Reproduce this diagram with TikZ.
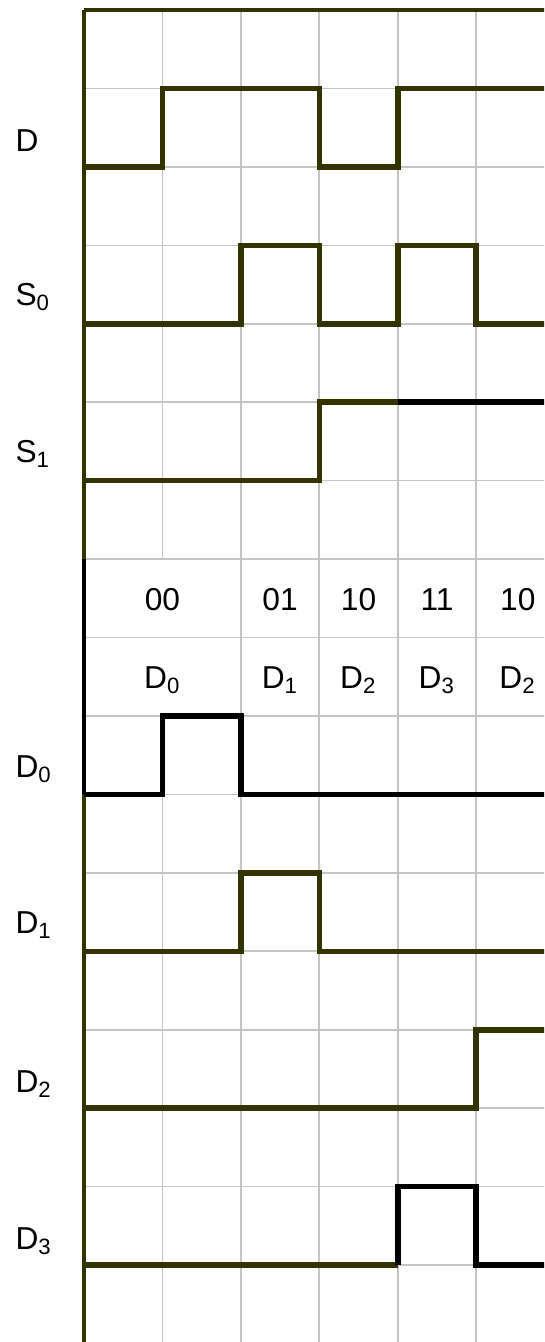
\documentclass[tikz,border=0pt]{standalone}
\usepackage{fontspec}
\setmainfont{Liberation Sans}
\definecolor{wavecol}{RGB}{51,51,0}
\definecolor{gridcol}{RGB}{196,196,196}
\tikzset{
	gridline/.style={draw=gridcol, line width=0.6pt},
	axisline/.style={draw=wavecol, line width=1.45pt},
	wave/.style={draw=wavecol, line width=2pt},
	waveblack/.style={draw=black, line width=2pt},
	siglabel/.style={anchor=base west, inner sep=0pt, font=\fontsize{11.5}{14}\selectfont},
	hdr/.style={anchor=base, inner sep=0pt, font=\fontsize{11.5}{14}\selectfont}
}
\begin{document}
\begin{tikzpicture}
	\clip (-1.0709,0.1275) rectangle (5.8644,-16.981);
	% grid
	\foreach \r in {1,...,16}
		\draw[gridline] (0,-\r) -- (6,-\r);
	\foreach \c in {2,...,5}
		\draw[gridline] (\c,0) -- (\c,-17.1);
	\draw[gridline] (1,0) -- (1,-7);
	\draw[gridline] (1,-9) -- (1,-17.1);
	% axis
	\draw[axisline, line width=1.1pt] (0,0) -- (6,0);
	\draw[axisline] (0,0) -- (0,-7);
	\draw[axisline, draw=black] (0,-7) -- (0,-10);
	\draw[axisline] (0,-10) -- (0,-17.1);
	% signal names
	\node[siglabel] (lD) at (-0.88,-1.8) {D};
	\node[siglabel] (lS0) at (-0.88,-3.77) {S\textsubscript{0}};
	\node[siglabel] (lS1) at (-0.88,-5.77) {S\textsubscript{1}};
	\node[siglabel] (lD0) at (-0.88,-9.78) {D\textsubscript{0}};
	\node[siglabel] (lD1) at (-0.88,-11.77) {D\textsubscript{1}};
	\node[siglabel] (lD2) at (-0.88,-13.8) {D\textsubscript{2}};
	\node[siglabel] (lD3) at (-0.88,-15.8) {D\textsubscript{3}};
	% select codes
	\node[hdr] (s00) at (1,-7.65) {00};
	\node[hdr] (s01) at (2.5,-7.65) {01};
	\node[hdr] (s10) at (3.5,-7.65) {10};
	\node[hdr] (s11) at (4.5,-7.65) {11};
	\node[hdr] (s10b) at (5.53,-7.65) {10};
	\node[hdr] (o0) at (1,-8.65) {D\textsubscript{0}};
	\node[hdr] (o1) at (2.5,-8.65) {D\textsubscript{1}};
	\node[hdr] (o2) at (3.5,-8.65) {D\textsubscript{2}};
	\node[hdr] (o3) at (4.5,-8.65) {D\textsubscript{3}};
	\node[hdr] (o2b) at (5.53,-8.65) {D\textsubscript{2}};
	% waveforms
	\draw[wave] (0,-2) -| (1,-1) -| (3,-2) -| (4,-1) -- (6,-1);
	\draw[wave] (0,-4) -| (2,-3) -| (3,-4) -| (4,-3) -| (5,-4) -- (6,-4);
	\draw[wave] (0,-6) -| (3,-5) -- (4,-5);
	\draw[waveblack] (4,-5) -- (6,-5);
	\draw[waveblack] (0,-10) -| (1,-9) -| (2,-10) -- (6,-10);
	\draw[wave] (0,-12) -| (2,-11) -| (3,-12) -- (6,-12);
	\draw[wave] (0,-14) -| (5,-13) -- (6,-13);
	\draw[wave] (0,-16) -- (4,-16);
	\draw[waveblack] (4,-16) |- (5,-15) |- (6,-16);
\end{tikzpicture}
\end{document}
